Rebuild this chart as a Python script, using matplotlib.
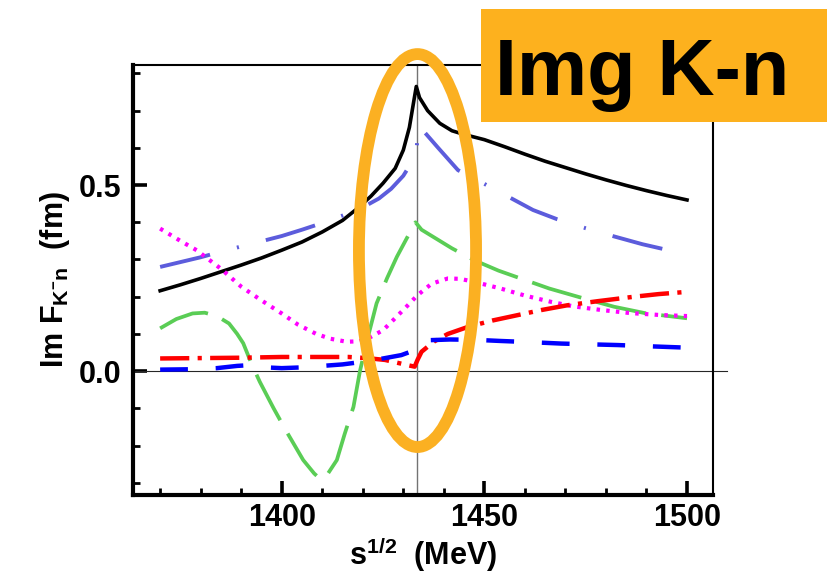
import matplotlib
matplotlib.use("Agg")
import matplotlib.pyplot as plt
from matplotlib import rcParams
from matplotlib.patches import Ellipse, Rectangle
from matplotlib.ticker import MultipleLocator

config = {
    "font.family": ["Liberation Sans", "DejaVu Sans"],
    "font.weight": "bold",
    "mathtext.fontset": "custom",
    "mathtext.default": "bf",
    "mathtext.bf": "Liberation Sans:bold",
    "mathtext.rm": "Liberation Sans:bold",
    "lines.scale_dashes": False,
}
rcParams.update(config)

# data (sqrt(s) in MeV, Im F in fm)
x_black = [1370, 1375, 1380, 1385, 1390, 1395, 1400, 1405, 1410, 1415, 1419, 1422, 1425,
           1428, 1430, 1431.5, 1432.5, 1433.2, 1434, 1436, 1439, 1442, 1445, 1450, 1455,
           1460, 1465, 1470, 1475, 1480, 1485, 1490, 1495, 1500]
y_black = [0.216, 0.232, 0.249, 0.267, 0.285, 0.304, 0.325, 0.347, 0.374, 0.405, 0.44, 0.47,
           0.505, 0.545, 0.594, 0.655, 0.72, 0.765, 0.735, 0.70, 0.666, 0.646, 0.636, 0.622,
           0.603, 0.583, 0.564, 0.547, 0.530, 0.514, 0.499, 0.485, 0.472, 0.46]

x_slate = [1370, 1375, 1380, 1385, 1390, 1395, 1400, 1405, 1410, 1415, 1420, 1424, 1427,
           1430, 1432, 1433.2, 1433.8, 1435, 1438.6, 1443.5, 1449, 1455, 1462, 1468, 1475,
           1482, 1489, 1495, 1500]
y_slate = [0.28, 0.293, 0.306, 0.321, 0.335, 0.349, 0.363, 0.38, 0.398, 0.418, 0.44, 0.464,
           0.49, 0.525, 0.56, 0.59, 0.66, 0.645, 0.60, 0.54, 0.509, 0.474, 0.433, 0.408,
           0.384, 0.362, 0.341, 0.326, 0.315]

x_green = [1370, 1374, 1378, 1381, 1384, 1387, 1389, 1390.5, 1392.5, 1394.6, 1398, 1401,
           1405.3, 1408, 1409.5, 1411, 1413.6, 1415.5, 1417.7, 1419.3, 1421, 1423.4, 1426,
           1428.4, 1431, 1433, 1434.5, 1437.5, 1442, 1447.5, 1453.5, 1460, 1466, 1474, 1482,
           1490, 1500]
y_green = [0.115, 0.14, 0.155, 0.157, 0.148, 0.128, 0.10, 0.075, 0.021, -0.029, -0.10,
           -0.159, -0.239, -0.275, -0.29, -0.282, -0.239, -0.17, -0.096, 0.0, 0.08, 0.182,
           0.25, 0.307, 0.36, 0.40, 0.38, 0.36, 0.33, 0.298, 0.27, 0.245, 0.222, 0.197,
           0.173, 0.155, 0.142]

x_magenta = [1370, 1375, 1379, 1385, 1390, 1395, 1400, 1404, 1408.5, 1412, 1416, 1419, 1422,
             1425, 1427.5, 1430.5, 1433.5, 1437, 1441, 1444, 1447.5, 1454, 1460, 1466.5, 1472,
             1479, 1486, 1493, 1500]
y_magenta = [0.383, 0.35, 0.325, 0.275, 0.227, 0.19, 0.155, 0.125, 0.10, 0.087, 0.079, 0.08,
             0.092, 0.11, 0.137, 0.17, 0.204, 0.235, 0.249, 0.248, 0.24, 0.222, 0.203, 0.186,
             0.174, 0.164, 0.156, 0.151, 0.148]

x_red = [1370, 1380, 1390, 1400, 1410, 1416.5, 1421, 1425.5, 1429.5, 1431.5, 1432.8, 1433.5,
         1434.5, 1437.5, 1441, 1446, 1452, 1458, 1464, 1470.5, 1478, 1487, 1493, 1500]
y_red = [0.034, 0.035, 0.036, 0.038, 0.038, 0.038, 0.035, 0.03, 0.02, 0.015, 0.012, 0.03,
         0.052, 0.079, 0.10, 0.119, 0.136, 0.15, 0.164, 0.177, 0.188, 0.20, 0.207, 0.213]

x_blue = [1370, 1378, 1384, 1389, 1392, 1396, 1400, 1405, 1410, 1415, 1420, 1425, 1429.5,
          1432.5, 1434, 1436, 1441.5, 1448, 1454, 1461, 1469, 1476, 1483, 1490, 1500]
y_blue = [0.004, 0.005, 0.008, 0.014, 0.016, 0.01, 0.008, 0.01, 0.014, 0.018, 0.025, 0.034,
          0.043, 0.055, 0.08, 0.083, 0.085, 0.084, 0.081, 0.078, 0.074, 0.072, 0.07, 0.067,
          0.063]

threshold = 1433.5
x_ticks = [1400, 1450, 1500]
y_ticks = [0.0, 0.5]

fig = plt.figure(figsize=(8.27, 5.75), dpi=100)
ax = fig.add_axes([0.1608, 0.1391, 0.7013, 0.7478])

ax.plot(x_black, y_black, color="black", lw=2.6, zorder=3)
ax.plot(x_slate, y_slate, color="#5c5cdc", lw=2.8, dashes=(37, 20, 1.5, 20), zorder=3)
ax.plot(x_green, y_green, color="#5acd55", lw=2.7, dashes=(37, 11), zorder=3)
ax.plot(x_magenta, y_magenta, color="#ff00ff", lw=3.0, dashes=(2.5, 4.5), zorder=3)
ax.plot(x_red, y_red, color="#ff0000", lw=3.2, dashes=(21, 6, 3, 6), zorder=3)
ax.plot(x_blue, y_blue, color="#0000ff", lw=3.2, dashes=(20, 20), zorder=3)

ax.axhline(0, xmin=0, xmax=1.024, color="0.15", lw=0.8, clip_on=False, zorder=2)
ax.axvline(threshold, color="0.45", lw=1.0, zorder=2)

ax.set_xlim(1363.3, 1506.4)
ax.set_ylim(-0.333, 0.8226)
ax.set_xticks(x_ticks)
ax.set_yticks(y_ticks)
ax.set_yticklabels(["0.0", "0.5"])
ax.xaxis.set_minor_locator(MultipleLocator(10))
ax.yaxis.set_minor_locator(MultipleLocator(0.1))
ax.tick_params(which="both", direction="in", top=False, right=False, labelsize=22)
ax.tick_params(which="major", length=10, width=2.6)
ax.tick_params(axis="x", which="major", pad=6)
ax.tick_params(axis="y", which="major", pad=8)
ax.tick_params(which="minor", length=5, width=2)
for lab in ax.get_xticklabels() + ax.get_yticklabels():
    lab.set_fontweight("bold")

ax.spines["left"].set_linewidth(3)
ax.spines["bottom"].set_linewidth(3)
ax.spines["top"].set_linewidth(1.5)
ax.spines["right"].set_linewidth(1.5)

ax.set_xlabel(r"s$^{1/2}$  (MeV)", fontsize=22, fontweight="bold", labelpad=1)
ax.set_ylabel(r"Im F$_{K^{-}n}$  (fm)", fontsize=22, fontweight="bold", labelpad=5)

# orange highlight ellipse around the threshold
ell = Ellipse((threshold, 0.324), width=28.9, height=1.056, fill=False,
              edgecolor="#fbb022", lw=8.5, clip_on=False, zorder=10)
ax.add_patch(ell)

# title box in the top right corner
box = Rectangle((0.5816, 0.7878), 0.4184, 0.1965, transform=fig.transFigure,
                facecolor="#fdb11e", edgecolor="none", zorder=5)
fig.add_artist(box)
fig.text(0.5985, 0.8348, "Img K-n", fontsize=57, fontweight="bold", color="black",
         va="baseline", ha="left", zorder=6)

fig.savefig("out.png", dpi=100)
